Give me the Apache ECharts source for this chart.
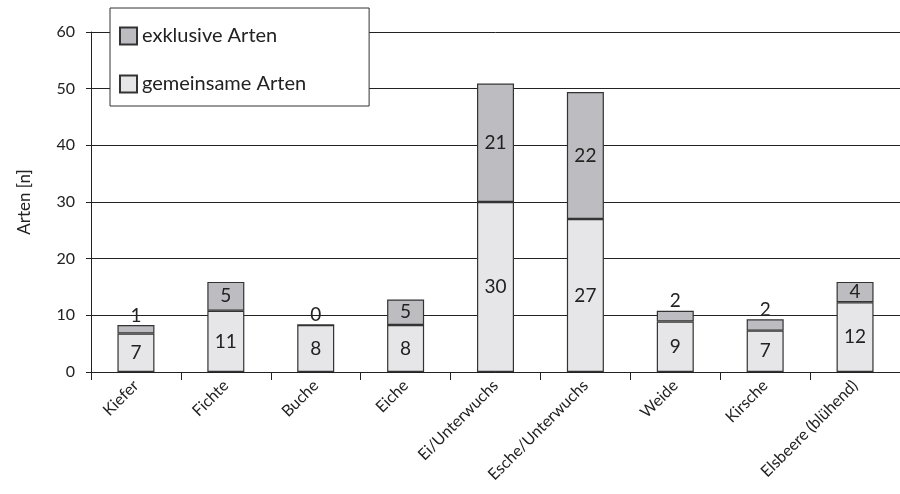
<!DOCTYPE html>
<html>
<head>
<meta charset="utf-8">
<script src="https://cdn.jsdelivr.net/npm/echarts@6/dist/echarts.min.js"></script>
<style>html,body{margin:0;padding:0;background:#fff;}#chart{width:900px;height:494px;}</style>
</head>
<body>
<div id="chart"></div>
<script>
const categories = ['Kiefer','Fichte','Buche','Eiche','Ei/Unterwuchs','Esche/Unterwuchs','Weide','Kirsche','Elsbeere (blühend)'];
const gemeinsameHeights = [6.8, 10.8, 8.3, 8.3, 30.0, 27.0, 8.9, 7.3, 12.3];
const exklusiveHeights = [1.5, 5.1, 0, 4.5, 20.9, 22.4, 1.9, 2.0, 3.6];
const gemeinsameLabels = [7, 11, 8, 8, 30, 27, 9, 7, 12];
const exklusiveLabels = [1, 5, 0, 5, 21, 22, 2, 2, 4];
const yTicks = [0, 10, 20, 30, 40, 50, 60];

const FONT = 'Lato';
const TXT = '#222';
const chart = echarts.init(document.getElementById('chart'), null, {renderer: 'canvas'});
chart.setOption({
  animation: false,
  textStyle: {fontFamily: FONT, color: TXT},
  grid: {left: 91, right: 0, top: 32, bottom: 122},
  legend: {
    left: 110, top: 8, orient: 'vertical',
    data: ['exklusive Arten', 'gemeinsame Arten'],
    itemWidth: 17, itemHeight: 17, itemGap: 28,
    padding: [18, 63, 12, 9],
    backgroundColor: '#fff', borderColor: '#333', borderWidth: 1,
    textStyle: {fontFamily: FONT, fontSize: 20, color: TXT},
    icon: 'rect'
  },
  xAxis: {
    type: 'category', data: categories,
    axisLine: {lineStyle: {color: '#222', width: 1}},
    axisTick: {show: true, length: 8, lineStyle: {color: '#222'}},
    axisLabel: {rotate: 45, fontSize: 16, color: TXT, fontFamily: FONT, margin: 11, interval: 0}
  },
  yAxis: {
    type: 'value', min: yTicks[0], max: yTicks[yTicks.length - 1], interval: 10,
    name: 'Arten [n]', nameLocation: 'middle', nameGap: 58,
    nameTextStyle: {fontSize: 17, color: TXT, fontFamily: FONT},
    axisLine: {show: true, lineStyle: {color: '#222', width: 1}},
    axisTick: {show: true, length: 5, lineStyle: {color: '#222'}},
    axisLabel: {fontSize: 16, color: TXT, fontFamily: FONT, margin: 16},
    splitLine: {show: true, lineStyle: {color: '#222', width: 1}}
  },
  series: [
    {
      name: 'gemeinsame Arten', type: 'bar', stack: 'a', barWidth: 37,
      data: gemeinsameHeights,
      itemStyle: {color: '#e6e6e8', borderColor: '#333', borderWidth: 1.2},
      label: {show: true, position: 'inside', fontSize: 19, color: TXT, fontFamily: FONT,
        formatter: p => String(gemeinsameLabels[p.dataIndex])}
    },
    {
      name: 'exklusive Arten', type: 'bar', stack: 'a', barWidth: 37,
      data: exklusiveHeights.map((v, i) => ({
        value: v,
        label: {position: v < 3 ? 'top' : 'inside', distance: 0}
      })),
      itemStyle: {color: '#bdbdc1', borderColor: '#333', borderWidth: 1.2},
      label: {show: true, fontSize: 19, color: TXT, fontFamily: FONT,
        formatter: p => String(exklusiveLabels[p.dataIndex])}
    }
  ]
});
</script>
</body>
</html>
